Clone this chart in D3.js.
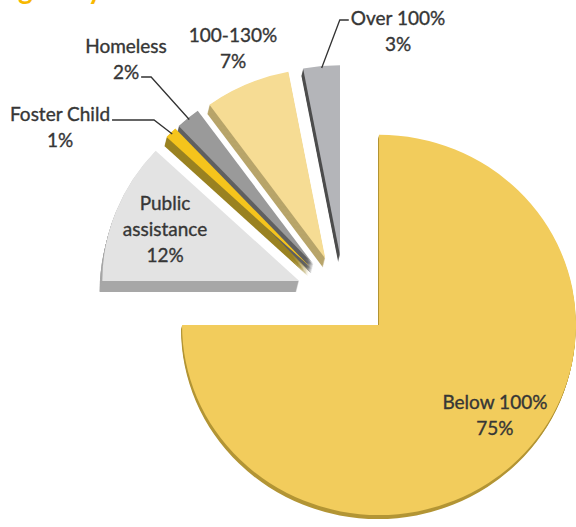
<!DOCTYPE html>
<html>
<head>
<meta charset="utf-8">
<script src="https://cdn.jsdelivr.net/npm/d3@7"></script>
<style>
  html, body { margin: 0; padding: 0; background: #fff; }
  svg { display: block; }
</style>
</head>
<body>
<svg id="chart" width="576" height="527"></svg>
<script>
// data
const categories = ["Below 100%", "Public assistance", "Foster Child", "Homeless", "100-130%", "Over 100%"];
const shares = [75, 12, 1, 2, 7, 3];
const labelLines = [["Below 100%"], ["Public", "assistance"], ["Foster Child"], ["Homeless"], ["100-130%"], ["Over 100%"]];
const faceColors = ["#f2cc5c", "#e3e3e3", "#f5c41c", "#9a9a9a", "#f6dc94", "#b4b5b9"];
const sideColors = ["#b39535", "#a7a7a7", "#9a8222", "#606060", "#b8a56a", "#4d4d4d"];

// layout (style only)
const W = 576, H = 527;
const cx = 344.6, cy = 296;      // pie centre before explosion
const R = 197, ky = 0.965;       // slight tilt
const explode = 48.7, explodeKy = 0.84;
const depth = [4, 11, 9, 9, 9, 7];
// inside labels: angle tweak (deg) and radius factor; outside labels: block centre
const labelInside = [{da: -6, rf: 0.757}, {da: 0, rf: 0.733}, null, null, null, null];
const labelOutside = [null, null, {x: 60, y: 114}, {x: 126, y: 46}, {x: 233, y: 35}, {x: 398, y: 18}];
const leaders = [null, null,
  {line: 0, side: "right", gap: 2, elbow: 42, dy: 6},
  {line: 1, side: "right", gap: 2, elbow: 10, dy: 5},
  null,
  {line: 0, side: "left", gap: 2, elbow: 9, dy: 2}];
const lineH = 26;

const svg = d3.select("#chart");

// title of the page, cut off at the top edge in the source
svg.append("text")
  .attr("x", -12).attr("y", -1)
  .attr("font-family", "Lato, 'Open Sans', sans-serif")
  .attr("font-weight", "bold")
  .attr("font-size", 28)
  .attr("fill", "#f7b800")
  .text("Eligibility");

const pie = d3.pie().sort(null).value(d => d)(shares);
const arc = d3.arc().innerRadius(0).outerRadius(R);

const apex = d => {
  const mid = (d.startAngle + d.endAngle) / 2;
  return [cx + explode * Math.sin(mid), cy - explode * Math.cos(mid) * explodeKy];
};
const onPie = (d, ang, r) => {
  const [ax, ay] = apex(d);
  return [ax + r * Math.sin(ang), ay - r * Math.cos(ang) * ky];
};

// sides first (stacked copies shifted down-left), then faces
const sides = svg.append("g");
pie.forEach((d, i) => {
  const [ax, ay] = apex(d);
  const n = depth[i];
  for (let k = n; k >= 1; k--) {
    sides.append("path")
      .attr("d", arc(d))
      .attr("fill", sideColors[i])
      .attr("transform", `translate(${ax - k * 0.25},${ay + k}) scale(1,${ky})`);
  }
});

const faces = svg.append("g");
faces.selectAll("path")
  .data(pie)
  .join("path")
  .attr("d", arc)
  .attr("fill", (d, i) => faceColors[i])
  .attr("transform", d => { const [ax, ay] = apex(d); return `translate(${ax},${ay}) scale(1,${ky})`; });

// labels
const labels = svg.append("g")
  .attr("font-family", "Lato, 'Open Sans', sans-serif")
  .attr("font-size", 19)
  .attr("fill", "#363636")
  .attr("stroke", "#363636")
  .attr("stroke-width", 0.35)
  .attr("text-anchor", "middle");

pie.forEach((d, i) => {
  const lines = labelLines[i].concat([shares[i] + "%"]);
  let bx, by;
  if (labelInside[i]) {
    const mid = (d.startAngle + d.endAngle) / 2 + labelInside[i].da * Math.PI / 180;
    const [px, py] = onPie(d, mid, labelInside[i].rf * R);
    bx = px;
    by = py - (lines.length - 1) * lineH / 2;
  } else {
    bx = labelOutside[i].x;
    by = labelOutside[i].y;
  }
  const texts = lines.map((t, j) => labels.append("text")
    .attr("x", bx).attr("y", by + j * lineH)
    .attr("dy", "0.35em")
    .text(t));

  const ld = leaders[i];
  if (ld) {
    const node = texts[ld.line].node();
    const w = node.getComputedTextLength();
    const ly = by + ld.line * lineH + ld.dy;
    const x0 = ld.side === "right" ? bx + w / 2 + ld.gap : bx - w / 2 - ld.gap;
    const x1 = ld.side === "right" ? x0 + ld.elbow : x0 - ld.elbow;
    const mid = (d.startAngle + d.endAngle) / 2;
    const [ex, ey] = onPie(d, mid, R * 0.99);
    svg.append("path")
      .attr("d", d3.line()([[x0, ly], [x1, ly], [ex, ey]]))
      .attr("fill", "none")
      .attr("stroke", "#333")
      .attr("stroke-width", 1.3);
  }
});
</script>
</body>
</html>
